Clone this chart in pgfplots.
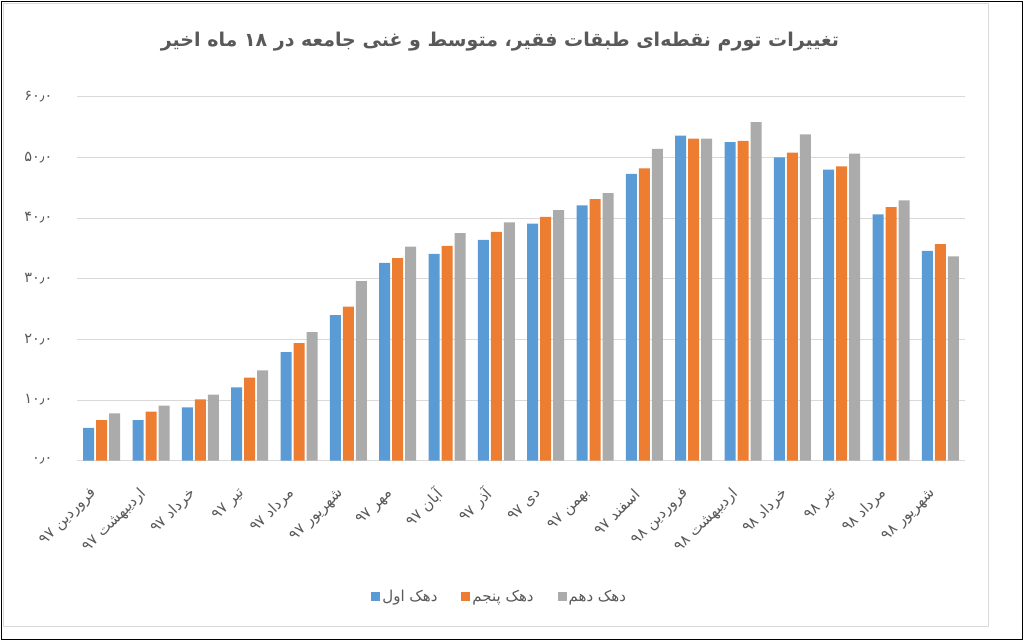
\documentclass[border=0pt]{standalone}
\usepackage{pgfplots}
\pgfplotsset{compat=1.18}
\usepackage{pgfplotstable}
\usepackage{fontspec}
\setmainfont{DejaVu Sans}
\newfontfamily\arabicfont[Script=Arabic]{DejaVu Sans}
\TeXXeTstate=1
\definecolor{cblue}{HTML}{5B9BD5}
\definecolor{corange}{HTML}{ED7D31}
\definecolor{cgray}{HTML}{ABABAB}
\definecolor{ctext}{HTML}{595959}
\definecolor{cgrid}{HTML}{D9D9D9}
\pgfplotstableread{
x a b c
0 5.4 6.7 7.8
1 6.7 8.1 9.1
2 8.8 10.1 10.9
3 12.1 13.7 14.9
4 17.9 19.4 21.2
5 24.0 25.4 29.6
6 32.6 33.4 35.3
7 34.1 35.4 37.5
8 36.4 37.7 39.3
9 39.1 40.2 41.3
10 42.1 43.1 44.1
11 47.3 48.2 51.4
12 53.6 53.1 53.1
13 52.5 52.7 55.8
14 50.0 50.8 53.8
15 48.0 48.5 50.6
16 40.6 41.8 42.9
17 34.6 35.7 33.7
}\data
\begin{document}
\begin{tikzpicture}
\begin{axis}[
  scale only axis, width=888pt, height=364pt,
  xmin=-0.5, xmax=17.5, ymin=0, ymax=60,
  ybar, bar width=11pt,
  axis line style={draw=none},
  tick style={draw=none},
  ymajorgrids, major grid style={cgrid, line width=0.8pt},
  ytick={0,10,20,30,40,50,60},
  yticklabels={۰٫۰,۱۰٫۰,۲۰٫۰,۳۰٫۰,۴۰٫۰,۵۰٫۰,۶۰٫۰},
  yticklabel style={font=\arabicfont\fontsize{14.5}{16}\selectfont, text=ctext, xshift=-21pt},
  xtick=data,
  xticklabels={{\beginR فروردین ۹۷\endR},{\beginR اردیبهشت ۹۷\endR},{\beginR خرداد ۹۷\endR},{\beginR تیر ۹۷\endR},{\beginR مرداد ۹۷\endR},{\beginR شهریور ۹۷\endR},{\beginR مهر ۹۷\endR},{\beginR آبان ۹۷\endR},{\beginR آذر ۹۷\endR},{\beginR دی ۹۷\endR},{\beginR بهمن ۹۷\endR},{\beginR اسفند ۹۷\endR},{\beginR فروردین ۹۸\endR},{\beginR اردیبهشت ۹۸\endR},{\beginR خرداد ۹۸\endR},{\beginR تیر ۹۸\endR},{\beginR مرداد ۹۸\endR},{\beginR شهریور ۹۸\endR}},
  xticklabel style={font=\arabicfont\fontsize{15}{17}\selectfont, text=ctext, xshift=-5pt, yshift=-24pt, rotate=45, anchor=east},
  legend columns=3,
  legend style={at={(0.476,-0.374)}, anchor=center, draw=none, font=\arabicfont\fontsize{15}{17}\selectfont, text=ctext,
    /tikz/every even column/.append style={column sep=22pt}},
  legend image code/.code={\fill[#1] (0pt,-4.5pt) rectangle (9pt,4.5pt);},
]
\addplot[fill=cblue, draw=none] table[x=x,y=a]{\data};
\addplot[fill=corange, draw=none] table[x=x,y=b]{\data};
\addplot[fill=cgray, draw=none] table[x=x,y=c]{\data};
\legend{{\beginR دهک اول\endR},{\beginR دهک پنجم\endR},{\beginR دهک دهم\endR}}
\end{axis}
\begin{scope}[x=1pt,y=1pt,shift={(-77pt,-180.3pt)}]
\path[use as bounding box] (0,0) rectangle (1024,641);
\draw[black, line width=1.5pt] (1.5,1.5) rectangle (1022.5,639.5);
\draw[cgrid, line width=1pt] (4,15) rectangle (988,637);
\node[font=\arabicfont\bfseries\fontsize{19}{23}\selectfont, text=ctext] at (500,599)
 {\beginR تغییرات تورم نقطه‌ای طبقات فقیر، متوسط و غنی جامعه در ۱۸ ماه اخیر\endR};
\end{scope}
\end{tikzpicture}
\end{document}
